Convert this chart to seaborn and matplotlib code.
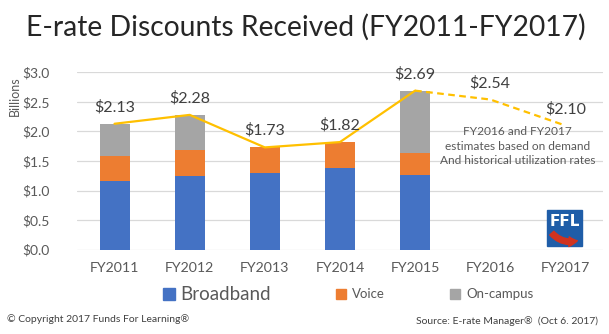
import numpy as np
import matplotlib
matplotlib.use("Agg")
import matplotlib.pyplot as plt
from matplotlib.patches import Rectangle, FancyArrowPatch
import seaborn as sns

# Funding year categories and components (billions of dollars)
years = ["FY2011", "FY2012", "FY2013", "FY2014", "FY2015", "FY2016", "FY2017"]
broadband = [1.16, 1.24, 1.30, 1.38, 1.27, 0.0, 0.0]
voice = [0.43, 0.44, 0.43, 0.44, 0.36, 0.0, 0.0]
on_campus = [0.54, 0.60, 0.00, 0.00, 1.06, 0.0, 0.0]
totals = [2.13, 2.28, 1.73, 1.82, 2.69, 2.54, 2.10]
total_labels = ["$2.13", "$2.28", "$1.73", "$1.82", "$2.69", "$2.54", "$2.10"]
y_ticks = [0.0, 0.5, 1.0, 1.5, 2.0, 2.5, 3.0]
y_tick_labels = ["$0.0", "$0.5", "$1.0", "$1.5", "$2.0", "$2.5", "$3.0"]
n_actual = 5  # FY2011-FY2015 are actual; later years are estimates
note_lines = ["FY2016 and FY2017", "estimates based on demand",
              "And historical utilization rates"]

C_BLUE = "#4472C4"
C_ORANGE = "#ED7D31"
C_GRAY = "#A5A5A5"
C_LINE = "#FFC000"
C_TICK = "#595959"
C_LABEL = "#404040"

sns.set_theme(style="white")
plt.rcParams["font.family"] = ["Lato", "DejaVu Sans"]

fig = plt.figure(figsize=(6.09, 3.34), dpi=100)
ax = fig.add_axes([0.1264, 0.2524, 0.8636, 0.5311])

# Stacked bars via overlapping cumulative heights
bb = np.array(broadband)
vo = np.array(voice)
oc = np.array(on_campus)
layers = [(bb + vo + oc, C_GRAY), (bb + vo, C_ORANGE), (bb, C_BLUE)]
for heights, color in layers:
    sns.barplot(x=years, y=heights, order=years, color=color, width=0.4,
                saturation=1, linewidth=0, ax=ax, zorder=2)

xpos = np.arange(len(years))
tot = np.array(totals)
sns.lineplot(x=xpos[:n_actual], y=tot[:n_actual], color=C_LINE, linewidth=1.6,
             ax=ax, zorder=3)
sns.lineplot(x=xpos[n_actual - 1:], y=tot[n_actual - 1:], color=C_LINE,
             linewidth=1.6, ax=ax, zorder=3)
ax.lines[-1].set_linestyle((0, (3, 2)))

for xi, yi, lab in zip(xpos, totals, total_labels):
    ax.annotate(lab, (xi, yi), xytext=(0, 12), textcoords="offset points",
                ha="center", va="center", fontsize=11.5, color=C_LABEL,
                annotation_clip=False, zorder=4)

ax.set_xlim(-0.5, len(years) - 0.5)
ax.set_ylim(0, 3.0)
ax.set_yticks(y_ticks)
ax.set_yticklabels(y_tick_labels)
ax.set_xticks(xpos)
ax.set_xticklabels(years)
ax.tick_params(axis="y", length=0, pad=19.5, labelsize=10, labelcolor=C_TICK)
ax.tick_params(axis="x", length=0, pad=9, labelsize=10.2, labelcolor=C_TICK)
ax.grid(axis="y", color="#D9D9D9", linewidth=0.9, zorder=0)
ax.set_axisbelow(True)
for s in ax.spines.values():
    s.set_visible(False)
ax.set_xlabel("")
ax.set_ylabel("")

# Estimate note
for i, line in enumerate(note_lines):
    ax.annotate(line, (5.36, 1.995), xytext=(0, -i * 10.3), textcoords="offset points",
                ha="center", va="center", fontsize=8.6, color=C_TICK)

# Title and side text
fig.text(0.502, 1 - 27 / 334, "E-rate Discounts Received (FY2011-FY2017)",
         ha="center", va="center", fontsize=20.3, color="#262626")
fig.text(15 / 609, 1 - 96 / 334, "Billions", rotation=90, ha="center",
         va="center", fontsize=9, color=C_TICK)

# Legend
leg_y = 1 - 294 / 334
items = [(163, 180, "Broadband", C_BLUE, 13.5, 12),
         (336, 352, "Voice", C_ORANGE, 9.5, 10),
         (450, 466, "On-campus", C_GRAY, 9.5, 10)]
for mx, tx, lab, col, fs, sq in items:
    fig.patches.append(Rectangle((mx / 609, leg_y - sq / 2 / 334), sq / 609, sq / 334,
                                 transform=fig.transFigure, color=col))
    fig.text(tx / 609, leg_y, lab, ha="left", va="center", fontsize=fs,
             color=C_TICK)

fig.text(7 / 609, 1 - 319 / 334, "\u00a9 Copyright 2017 Funds For Learning\u00ae",
         ha="left", va="center", fontsize=7.5, color="#404040")
fig.text(598 / 609, 1 - 321 / 334, "Source: E-rate Manager\u00ae  (Oct 6. 2017)",
         ha="right", va="center", fontsize=7.45, color="#404040")

# FFL badge
bx0, by0, bw, bh = 547, 210, 35, 36
fig.patches.append(Rectangle((bx0 / 609, 1 - (by0 + bh) / 334), bw / 609, bh / 334,
                             transform=fig.transFigure, color="#1F5DA8", zorder=5))
fig.text((bx0 + bw / 2) / 609, 1 - (by0 + 11) / 334, "FFL", ha="center",
         va="center", fontsize=11, fontweight="bold", color="white", zorder=6,
         family=["DejaVu Sans"])
arrow = FancyArrowPatch(((bx0 + 3) / 609, 1 - (by0 + 21) / 334),
                        ((bx0 + 33) / 609, 1 - (by0 + 30) / 334),
                        connectionstyle="arc3,rad=0.35",
                        arrowstyle="simple,head_width=7,head_length=6,tail_width=4",
                        color="#D0331F", transform=fig.transFigure, zorder=6)
fig.patches.append(arrow)

fig.savefig("out.png", dpi=100)
